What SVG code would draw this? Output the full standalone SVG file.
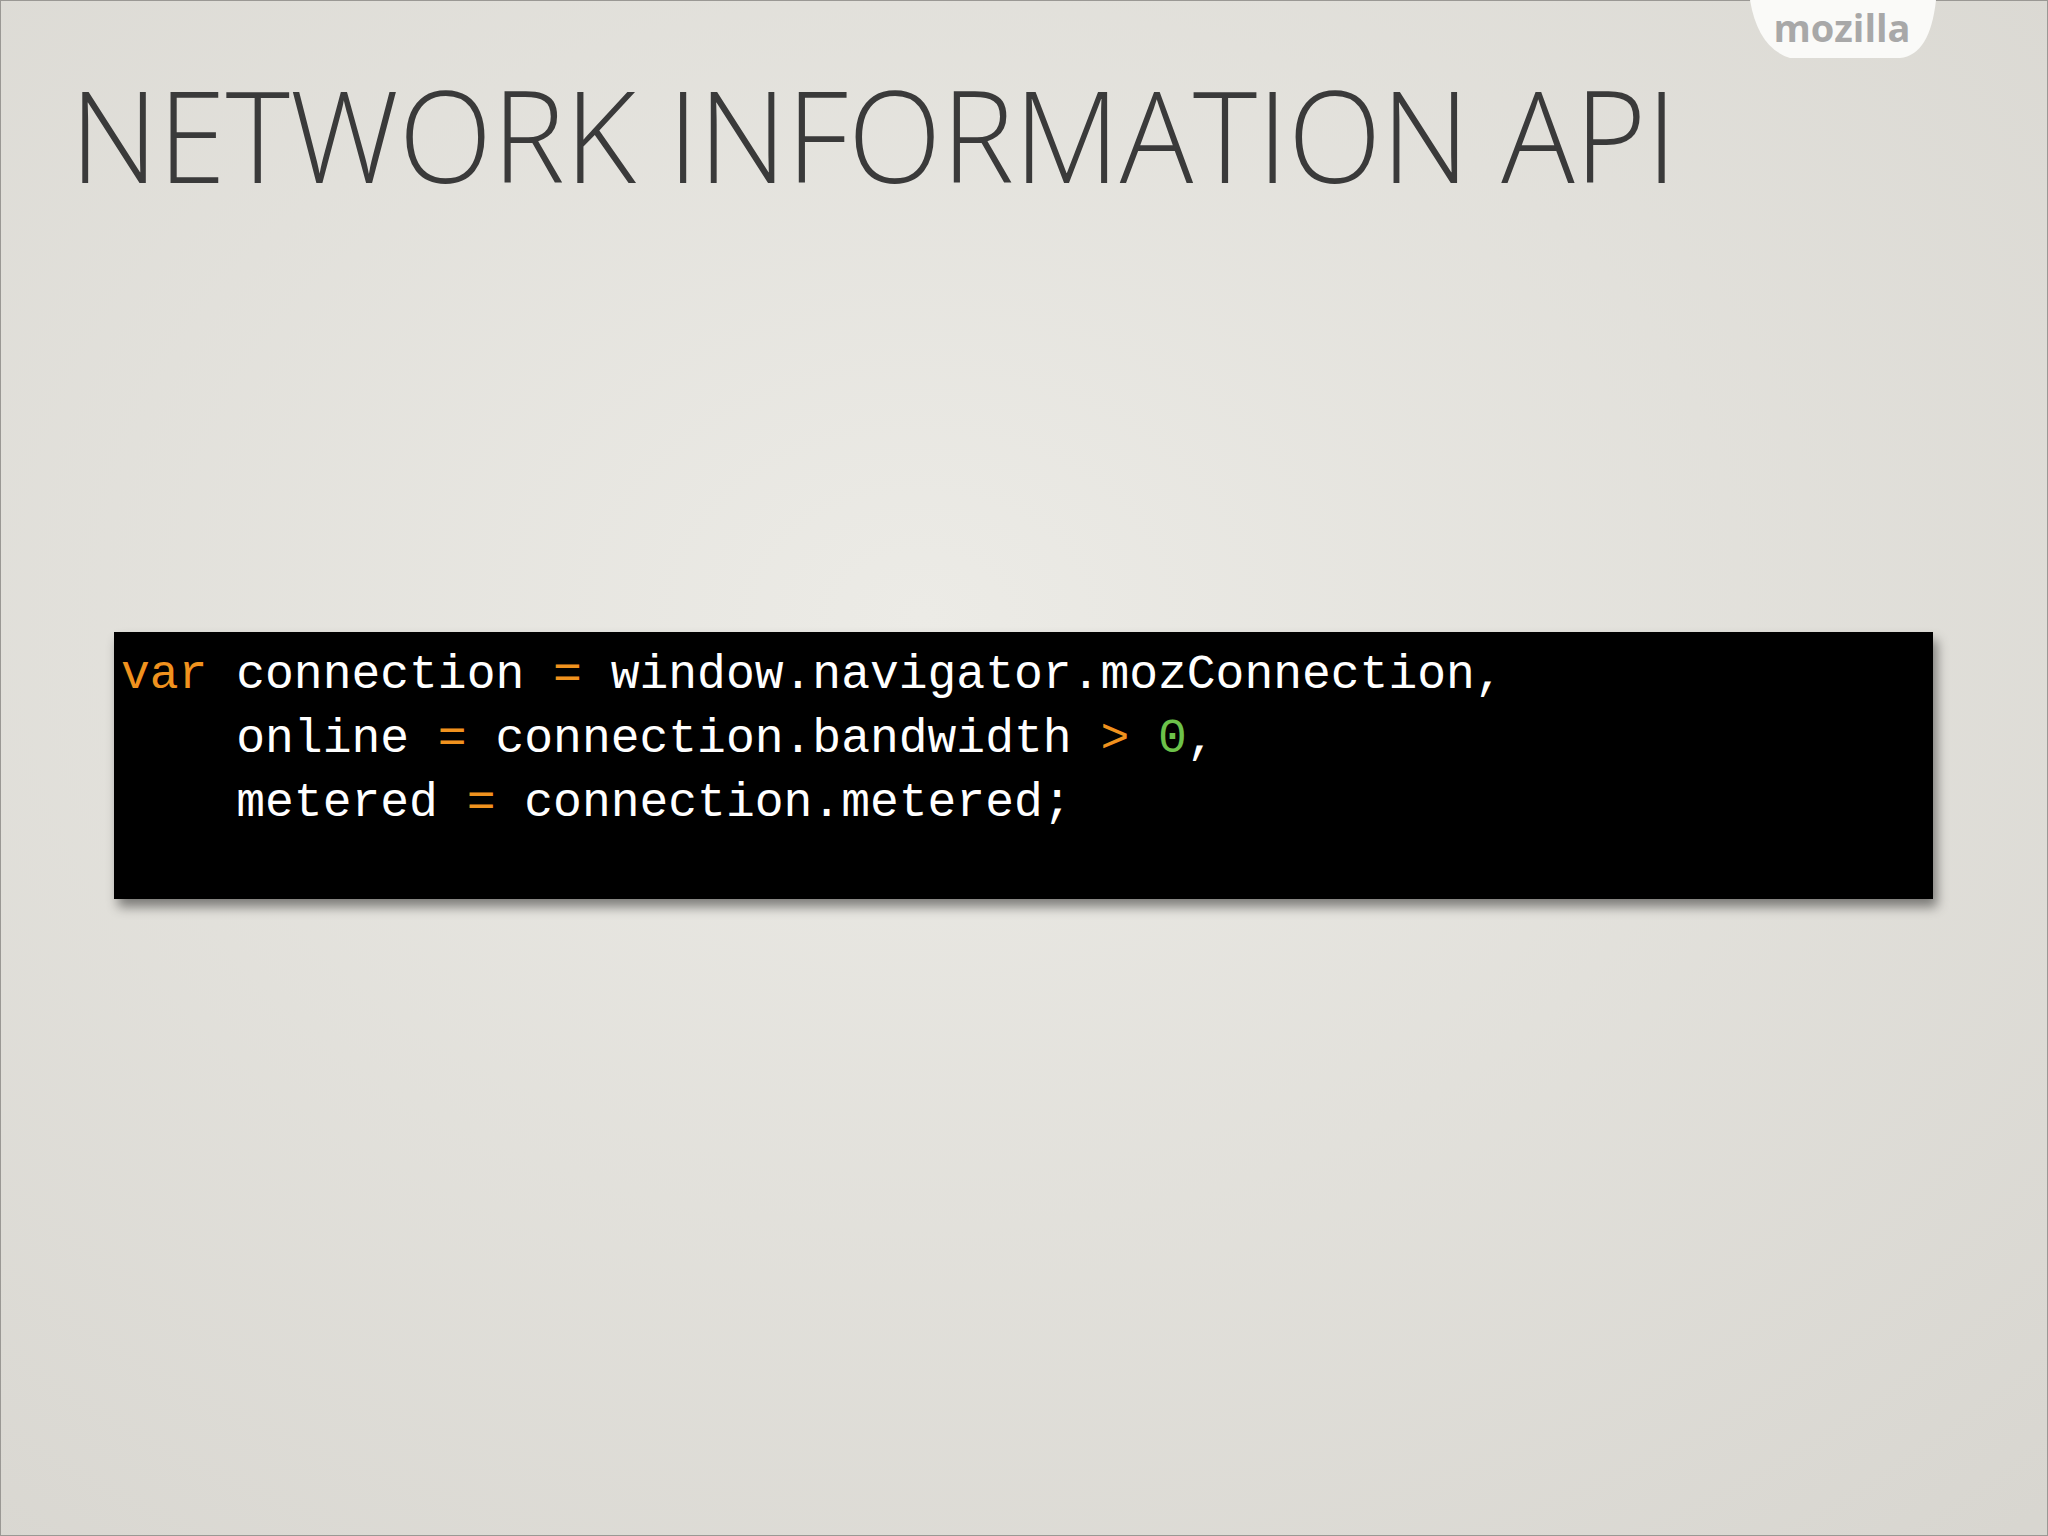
<svg xmlns="http://www.w3.org/2000/svg" width="2048" height="1536" viewBox="0 0 2048 1536">
<defs>
<radialGradient id="bg" cx="0.45" cy="0.4" r="0.8"><stop offset="0" stop-color="#ecebe6"/><stop offset="1" stop-color="#d8d6d0"/></radialGradient>
<filter id="sh" x="-5%" y="-10%" width="110%" height="130%"><feDropShadow dx="4" dy="8" stdDeviation="6" flood-color="#000" flood-opacity="0.45"/></filter>
<style>
.code{font-family:"Liberation Mono","DejaVu Sans Mono",monospace;font-size:48px;fill:#fff;white-space:pre}
.k{fill:#f0921e}.n{fill:#6cc24a}
</style>
</defs>
<rect width="2048" height="1536" fill="url(#bg)"/>
<rect x="0.5" y="0.5" width="2047" height="1535" fill="none" stroke="#9a9894"/>
<g id="tab">
<path d="M1750 0 Q1758 48 1790 58 L1900 58 Q1930 55 1936 0 Z" fill="#fafaf8"/>
<text x="1842" y="42" text-anchor="middle" font-family="Open Sans, sans-serif" font-weight="bold" font-size="38" fill="#a8a8a8">mozilla</text>
</g>
<g id="title"><text x="70" y="183" font-family="Open Sans, sans-serif" font-weight="300" font-size="128" fill="#3a3a3a" textLength="1607" lengthAdjust="spacingAndGlyphs">NETWORK INFORMATION API</text></g>
<g id="code">
<rect x="114" y="632" width="1819" height="267" fill="#000" filter="url(#sh)"/>
<text class="code" x="121" y="688" xml:space="preserve"><tspan class="k">var</tspan> connection <tspan class="k">=</tspan> window.navigator.mozConnection,</text>
<text class="code" x="121" y="752" xml:space="preserve">    online <tspan class="k">=</tspan> connection.bandwidth <tspan class="k">&gt;</tspan> <tspan class="n">0</tspan>,</text>
<text class="code" x="121" y="816" xml:space="preserve">    metered <tspan class="k">=</tspan> connection.metered;</text>
</g>
</svg>
